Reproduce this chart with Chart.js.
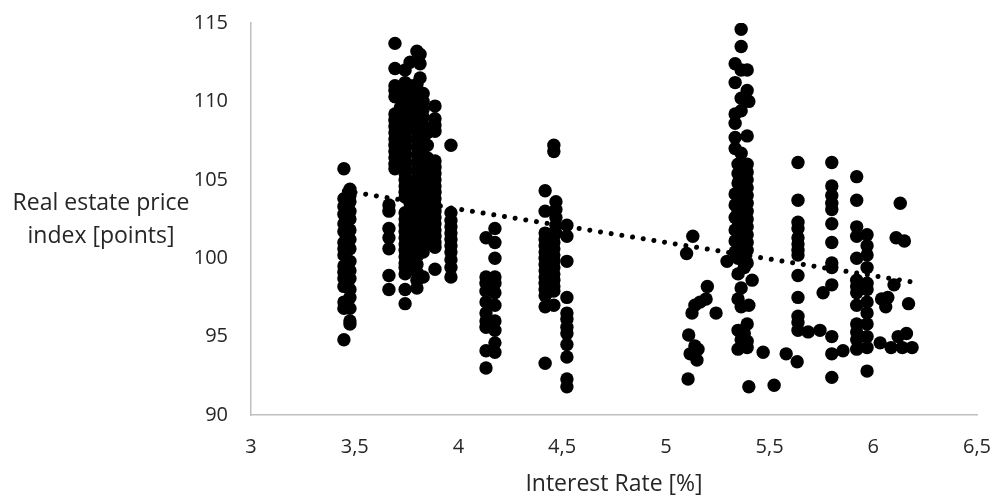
<!DOCTYPE html>
<html>
<head>
<meta charset="utf-8">
<style>html,body{margin:0;padding:0;background:#fff}canvas{display:block}</style>
<script src="https://cdn.jsdelivr.net/npm/chart.js@4"></script>
</head>
<body>
<canvas id="c" width="993" height="495"></canvas>
<script>
const xTitle = "Interest Rate [%]";
const yTitleLines = ["Real estate price", "index [points]"];
const trendX = [3.45, 6.18];
const trendY = [104.3, 98.5];

// Each row: interest rate, then the price index readings at that rate
const readings = [
 [3.448, 105.7,103.8,103.3,102.8,102.2,101.7,101,100.6,100.2,99.5,99.1,98.7,98.2,97.2,96.8,94.8],
 [3.477, 104.4,104,103.6,103,102.5,101.8,101.2,100.6,99.8,99.2,98.7,98,97.5,96.8,96,95.8],
 [3.665, 103.4,103,101.9,101.3,100.6,98.9,98],
 [3.694, 113.7,112.1,111,110.7,110.3,109.2,108.8,108.4,108,107.6,107.2,106.8,106.4,106,105.7],
 [3.72, 110.4,109.6,109.1,108.6,108.1,107.6,107.1,106.6,106.1],
 [3.743, 112,111.2,110.7,110.2,109.8,109.4,109,108.6,108.2,107.8,107.4,107,106.6,106.2,105.8,105.4,105,104.6,104.2,103.9,102.9,102.5,102.1,101.7,101.3,100.9,100.5,100.1,99.7,99.4,99,98,97.1],
 [3.767, 112.5,111,110.2,109.4,108.6,104.6,104,103.5,103.1,102.6,102,101.4,100.8,100.2,99.6],
 [3.8, 113.2,111.1,110.6,110.1,109.6,109.1,108.6,108.1,107.6,107.1,106.6,106.1,105.6,105.1,104.6,104.1,103.6,103.1,102.6,102.1,101.6,101.1,100.6,100.1,99.6,99.1,98.6,98.1],
 [3.815, 113,112.4,111.5],
 [3.83, 110.5,110,109.5,109,108.5,108,107.5,107,106.5,106,105.5,105,104.5,104,103.5,103,102.5,102,101.5,101,100.4,98.8],
 [3.85, 108,107.2,106.4,105.5,105,104.5,104,103.5,103,102.5,102,101.5,101],
 [3.887, 109.7,108.9,108.5,108.1,106.2,105.8,105.4,105,104.6,104.2,103.8,103.4,103,102.6,102.2,101.8,101.4,101,100.7,99.3],
 [3.964, 107.2,102.9,102.4,102,101.6,101.2,100.8,100.4,99.9,99.4,98.8],
 [4.133, 101.3,98.8,98.4,97.9,97.2,96.5,96,95.6,94.1,93],
 [4.176, 101.9,101,100,98.8,98.4,97.8,97,96,95.4,94.6,94],
 [4.418, 104.3,103,101.6,101.2,100.8,100.4,100,99.6,99.2,98.8,98.4,98,97.6,96.9,93.3],
 [4.44, 101.5,100.9,100.3,99.7,99.1,98.5,97.9],
 [4.46, 107.2,106.8,101.4,101,100.6,100.2,99.8,99.4,99,98.6,98.2,97.9,97],
 [4.47, 103.6,103.1,102.6,102.1,101.6],
 [4.523, 102.1,101.4,99.8,97.5,96.5,96.1,95.6,95.2,94.5,93.7,92.3,91.8],
 [5.1, 100.3],
 [5.107, 92.3],
 [5.11, 95.1],
 [5.117, 93.9],
 [5.126, 96.5],
 [5.13, 101.4],
 [5.14, 97,94.4],
 [5.15, 93.5],
 [5.155, 94.2],
 [5.165, 97.2],
 [5.194, 97.4],
 [5.2, 98.2],
 [5.242, 96.5],
 [5.295, 99.8],
 [5.334, 112.4,111.2,109.2,108.6,107.7,107,104.1,103.4,102.6,101.8,101.1,100.4],
 [5.348, 106,105.4,104.8,104.2,103.6,103,102.4,101.8,101.2,100.6,100,99,97.4,95.4,94.2],
 [5.363, 114.6,113.5,112,110.2,109.4,106.7,105.6,105,104.4,103.8,103.2,102.6,102,101.4,100.8,100.2,98.1,96.9,94.8],
 [5.378, 105.7,105.1,104.5,103.9,103.3,102.7,102.1,101.5,100.9,100.3,99.4,95.2,94.5],
 [5.392, 112,110.7,107.8,106,105.5,105,104.5,104,103.5,103,102.5,102,101.5,101,100.5,99.7,95.8,94.7,94.3],
 [5.4, 110,97,91.8],
 [5.416, 98.6],
 [5.469, 94],
 [5.522, 91.9],
 [5.58, 93.9],
 [5.633, 93.4],
 [5.637, 106.1,103.7,102.3,101.9,101.3,100.9,100.5,100.2,98.9,97.5,96.3,95.9,95.4],
 [5.686, 95.3],
 [5.743, 95.4],
 [5.758, 97.8],
 [5.8, 106.1,104.6,104,103.5,103.1,102.2,101,99.7,99.4,98.3,95,93.9,92.4],
 [5.854, 94.1],
 [5.92, 105.2,103.7,102,101.4,100,98.6,98.2,97.8,97,95.8,95.3,94.8,94.2],
 [5.97, 101.5,100.8,100.2,99.4,98.4,98,97.2,96.5,95.8,95,94.3,92.8],
 [6.033, 94.6],
 [6.04, 97.4],
 [6.06, 96.9],
 [6.07, 97.5],
 [6.086, 94.3],
 [6.1, 98.3],
 [6.11, 101.3],
 [6.12, 95],
 [6.13, 103.5],
 [6.14, 94.3],
 [6.15, 101.1],
 [6.16, 95.2],
 [6.17, 97.1],
 [6.187, 94.3]
];

const points = [];
readings.forEach(r => r.slice(1).forEach(v => points.push({x: r[0], y: v})));
const trend = trendX.map((x, i) => ({x, y: trendY[i]}));

const FONT = "'Open Sans', sans-serif";
const TEXT = "#262626";

const yTitlePlugin = {
  id: 'yTitle',
  afterDraw(chart) {
    const ctx = chart.ctx;
    ctx.save();
    ctx.font = "23px " + FONT;
    ctx.fillStyle = TEXT;
    ctx.textAlign = "center";
    ctx.textBaseline = "middle";
    ctx.fillText(yTitleLines[0], 101, 203);
    ctx.fillText(yTitleLines[1], 101, 236);
    ctx.restore();
  }
};

new Chart(document.getElementById('c'), {
  type: 'scatter',
  data: { datasets: [
    { data: points, backgroundColor: '#000', borderColor: '#000', pointRadius: 6.7, pointHoverRadius: 6.7, borderWidth: 0 },
    { type: 'line', data: trend, borderColor: '#000', borderWidth: 5, borderCapStyle: 'round', borderDash: [0.01, 10.8], pointRadius: 0, fill: false, tension: 0 }
  ]},
  options: {
    responsive: false,
    animation: false,
    layout: { padding: { left: 0, top: 0, right: 0, bottom: 0 } },
    plugins: { legend: { display: false }, tooltip: { enabled: false }, title: { display: false } },
    scales: {
      x: {
        type: 'linear', min: 3, max: 6.5,
        afterFit: s => { s.height = 80; s.paddingRight = 16; s.paddingLeft = 0; },
        grid: { display: false, drawTicks: false },
        border: { display: true, color: '#bfbfbf', width: 1.5 },
        ticks: { stepSize: 0.5, padding: 20, color: TEXT, font: { family: FONT, size: 20 }, maxRotation: 0,
                 callback: v => String(v).replace('.', ',') },
        title: { display: true, text: xTitle, color: TEXT, font: { family: FONT, size: 23 }, padding: { top: 0, bottom: -3 } }
      },
      y: {
        type: 'linear', min: 90, max: 115,
        afterFit: s => { s.width = 251; s.paddingTop = 23; s.paddingBottom = 0; },
        grid: { display: false, drawTicks: false },
        border: { display: true, color: '#bfbfbf', width: 1.5 },
        ticks: { stepSize: 5, padding: 23, color: TEXT, font: { family: FONT, size: 20 } }
      }
    }
  },
  plugins: [yTitlePlugin]
});
</script>
</body>
</html>
